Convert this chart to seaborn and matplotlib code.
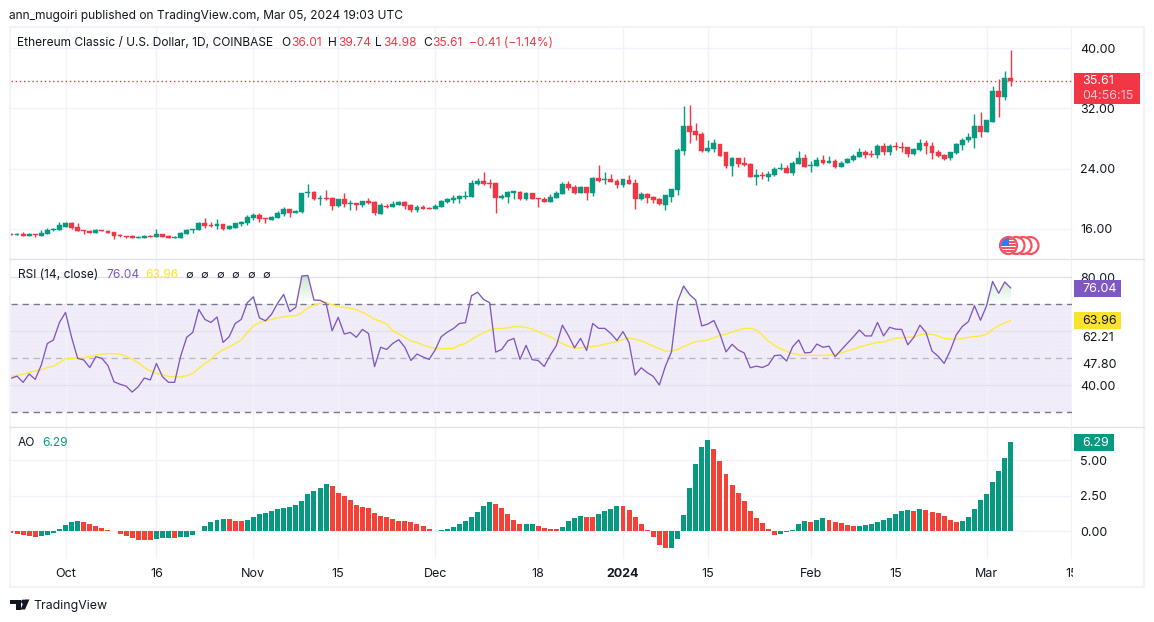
import numpy as np
import pandas as pd
import matplotlib
matplotlib.use('Agg')
import matplotlib.pyplot as plt
import seaborn as sns
from matplotlib.patches import Circle, Polygon, Rectangle
from matplotlib.path import Path
from matplotlib.transforms import Bbox

# Velas diárias ETC/USD
opens = [15.27, 15.13, 15.27, 15.0, 15.27, 15.0, 15.27, 15.8, 15.8, 16.2, 16.73, 16.2, 15.8, 15.67, 15.4, 15.8, 15.67, 15.53, 15.13, 15.0,
         15.0, 14.78, 14.78, 15.0, 14.87, 15.27, 15.0, 14.78, 14.78, 15.27, 15.84, 15.8, 16.73, 16.42, 16.33, 16.6, 15.93, 16.07, 16.6, 16.73,
         17.4, 17.8, 17.4, 17.13, 17.4, 17.93, 18.6, 18.07, 18.2, 20.73, 20.87, 19.93, 20.07, 20.07, 19.0, 19.93, 19.27, 19.4, 19.13, 19.67,
         19.53, 17.93, 19.05, 18.87, 19.13, 19.53, 19.13, 18.47, 18.87, 18.78, 18.6, 18.87, 19.53, 19.8, 19.93, 20.2, 20.2, 21.93, 22.33, 22.07,
         22.07, 20.07, 20.2, 20.73, 20.87, 19.93, 20.73, 20.07, 19.93, 19.53, 20.07, 20.6, 21.93, 21.53, 20.73, 21.53, 20.73, 22.73, 22.47, 22.6,
         22.33, 21.8, 22.47, 22.07, 19.93, 20.6, 20.2, 19.93, 19.13, 20.2, 21.13, 26.33, 29.67, 29.0, 28.6, 26.33, 26.6, 27.27, 26.2, 24.33,
         25.4, 24.73, 24.6, 22.87, 23.13, 22.87, 23.13, 23.93, 24.07, 23.4, 24.6, 25.4, 24.33, 24.33, 25.13, 24.73, 25.0, 24.2, 24.73, 25.13,
         25.53, 26.2, 25.93, 25.8, 27.0, 26.2, 27.0, 26.87, 26.87, 25.93, 26.47, 27.4, 27.0, 26.2, 25.8, 25.4, 26.07, 27.13, 27.8, 28.07,
         29.67, 28.87, 30.2, 34.33, 33.53, 36.01]
highs = [15.4, 15.36, 15.49, 15.36, 15.27, 15.8, 16.07, 16.11, 16.87, 16.87, 16.87, 16.73, 15.8, 15.8, 15.93, 15.8, 15.8, 15.53, 15.27, 15.0,
         15.13, 15.0, 15.13, 15.13, 15.93, 15.27, 15.13, 15.0, 15.53, 15.93, 15.93, 16.87, 17.4, 16.87, 17.27, 16.6, 16.47, 16.73, 17.0, 17.8,
         18.07, 18.07, 17.4, 17.67, 18.33, 18.87, 18.6, 18.47, 20.73, 21.93, 21.0, 20.47, 21.13, 20.2, 19.93, 20.73, 19.8, 19.4, 19.67, 20.07,
         19.67, 19.4, 19.27, 19.67, 19.67, 19.67, 19.27, 19.13, 19.13, 18.87, 19.27, 19.8, 20.07, 20.47, 20.47, 21.0, 22.47, 22.73, 23.53, 22.6,
         22.07, 20.6, 21.0, 21.0, 21.0, 20.87, 20.73, 20.07, 20.2, 20.6, 21.0, 22.2, 22.33, 21.8, 21.67, 21.53, 22.87, 24.47, 23.53, 23.27,
         22.6, 22.6, 23.13, 22.6, 20.87, 20.73, 20.33, 20.07, 20.47, 21.27, 26.73, 32.33, 32.47, 30.07, 28.87, 27.8, 27.93, 27.27, 26.2, 25.53,
         25.4, 25.53, 24.73, 23.93, 23.53, 23.67, 24.2, 24.73, 24.47, 25.0, 26.33, 25.93, 25.0, 25.53, 25.8, 25.67, 25.27, 25.0, 25.4, 25.93,
         26.73, 26.47, 26.47, 27.27, 27.4, 27.27, 27.53, 27.53, 26.87, 26.73, 27.93, 27.8, 27.53, 26.47, 25.93, 26.2, 27.4, 28.07, 28.73, 31.27,
         31.53, 30.47, 35.0, 35.93, 37.0, 39.74]
lows = [15.13, 15.09, 15.0, 15.0, 14.91, 15.0, 15.27, 15.67, 15.8, 16.15, 15.93, 15.67, 15.27, 15.4, 15.4, 15.71, 15.36, 14.6, 14.87, 14.78,
        14.73, 14.73, 14.73, 14.82, 14.87, 14.87, 14.73, 14.73, 14.78, 15.27, 15.4, 15.8, 16.07, 16.15, 15.93, 15.8, 15.93, 16.07, 16.33, 16.47,
        17.13, 16.87, 16.73, 17.13, 17.4, 17.67, 17.53, 18.07, 18.07, 20.2, 19.8, 19.13, 19.8, 18.47, 18.87, 18.87, 18.47, 18.47, 18.87, 19.27,
        17.8, 17.93, 18.73, 18.87, 19.13, 18.6, 18.2, 18.2, 18.6, 18.6, 18.6, 18.87, 19.4, 19.4, 19.4, 19.93, 20.2, 21.8, 21.8, 21.4,
        18.07, 19.93, 19.4, 19.93, 19.8, 19.8, 19.93, 18.87, 19.53, 19.53, 20.07, 20.6, 21.13, 20.6, 20.73, 19.8, 20.33, 22.2, 21.93, 22.2,
        21.4, 21.53, 21.93, 18.6, 19.8, 19.4, 19.4, 19.13, 18.47, 19.53, 20.47, 25.8, 27.4, 27.8, 26.2, 26.2, 26.2, 25.67, 24.07, 23.0,
        24.2, 24.33, 22.87, 21.8, 22.6, 22.33, 23.0, 23.8, 23.4, 23.13, 24.6, 24.2, 23.53, 24.33, 24.6, 24.73, 24.07, 24.2, 24.73, 25.0,
        25.53, 25.4, 25.53, 25.4, 25.8, 25.8, 26.47, 26.2, 25.53, 25.8, 26.33, 25.93, 25.27, 25.53, 25.13, 25.13, 25.93, 26.47, 27.53, 26.73,
        28.2, 28.87, 30.2, 30.87, 33.13, 34.98]
closes = [15.13, 15.27, 15.0, 15.27, 15.18, 15.4, 15.8, 15.93, 16.47, 16.73, 16.07, 15.67, 15.71, 15.44, 15.8, 15.71, 15.44, 15.0, 15.0, 14.91,
          14.78, 14.91, 15.0, 14.91, 15.27, 14.87, 14.78, 14.91, 15.4, 15.8, 15.93, 16.73, 16.33, 16.33, 16.6, 15.93, 16.33, 16.73, 16.87, 17.53,
          17.8, 17.27, 17.31, 17.53, 18.07, 18.6, 18.07, 18.33, 20.73, 20.87, 19.93, 20.07, 19.93, 19.0, 19.93, 19.27, 19.4, 19.13, 19.67, 19.36,
          18.07, 19.13, 18.91, 19.27, 19.53, 19.0, 18.47, 18.87, 18.6, 18.6, 19.0, 19.67, 19.93, 20.07, 20.33, 20.33, 22.07, 22.33, 21.93, 21.93,
          20.07, 20.29, 20.87, 21.0, 19.93, 20.73, 19.93, 19.98, 19.53, 20.2, 20.73, 21.93, 21.4, 20.73, 21.53, 20.73, 22.73, 22.33, 22.6, 22.2,
          21.8, 22.6, 21.93, 19.93, 20.6, 20.07, 19.8, 19.27, 20.47, 21.27, 26.47, 29.67, 28.87, 28.47, 26.33, 26.73, 27.4, 25.67, 24.33, 25.4,
          24.6, 24.51, 22.87, 23.13, 23.0, 23.27, 23.93, 24.07, 23.4, 24.73, 25.4, 24.2, 24.47, 25.13, 24.73, 25.0, 24.2, 24.73, 25.27, 25.67,
          26.2, 25.8, 25.8, 27.0, 26.2, 27.0, 26.87, 26.78, 25.93, 26.6, 27.4, 27.0, 26.07, 25.67, 25.27, 26.2, 27.27, 27.8, 28.2, 29.67,
          28.87, 30.47, 34.33, 33.53, 36.01, 35.61]

rsi_values = [42.6, 43.4, 41.1, 44.2, 42.2, 47.5, 55.5, 56.8, 63.3, 67.0, 57.8, 50.0, 49.4, 46.6, 50.6, 50.0, 47.3, 41.3, 40.4, 39.7,
              37.5, 39.5, 42.7, 42.0, 48.1, 43.2, 41.1, 41.1, 50.8, 57.8, 59.6, 68.1, 64.4, 63.3, 65.3, 55.9, 58.0, 62.9, 64.4, 70.6,
              72.8, 65.0, 63.9, 66.3, 70.4, 73.7, 67.3, 68.9, 80.5, 80.7, 71.6, 71.5, 70.4, 60.2, 65.2, 59.0, 59.6, 57.8, 60.7, 59.2,
              46.9, 54.1, 53.3, 55.5, 56.9, 54.1, 49.2, 51.6, 50.5, 49.6, 53.1, 58.0, 59.7, 61.0, 62.9, 63.2, 73.2, 74.5, 71.8, 70.6,
              52.3, 53.3, 56.5, 57.4, 49.6, 54.8, 49.5, 49.2, 47.0, 51.2, 54.7, 62.3, 58.4, 53.9, 57.4, 52.9, 62.9, 61.1, 61.1, 59.2,
              56.6, 59.9, 55.8, 43.8, 46.5, 44.7, 43.3, 40.1, 47.1, 52.4, 71.0, 76.8, 73.6, 71.6, 62.0, 62.7, 64.0, 59.0, 52.4, 55.2,
              53.1, 52.0, 46.5, 47.1, 46.6, 47.6, 51.0, 51.2, 49.0, 54.3, 56.8, 52.0, 52.2, 55.3, 54.1, 54.5, 50.6, 53.1, 55.5, 57.9,
              60.5, 58.3, 58.3, 63.3, 58.3, 61.5, 60.8, 60.7, 55.0, 57.8, 62.3, 59.6, 52.7, 50.8, 48.1, 52.8, 58.7, 61.8, 63.6, 69.5,
              64.1, 69.5, 78.5, 74.1, 78.3, 76.04]
rsi_ma = [43.3, 43.7, 44.1, 44.8, 45.3, 45.7, 46.6, 47.1, 48.4, 49.9, 50.0, 50.0, 50.2, 50.7, 51.2, 51.6, 51.8, 51.7, 51.5, 50.8,
          49.6, 48.4, 46.6, 45.3, 44.5, 43.9, 43.3, 43.1, 43.1, 43.6, 44.4, 46.3, 48.0, 49.7, 51.8, 53.1, 54.2, 55.5, 56.9, 59.5,
          62.0, 63.2, 63.9, 64.4, 65.0, 65.4, 65.7, 65.8, 66.9, 68.7, 69.7, 70.4, 70.7, 69.9, 69.2, 68.9, 68.5, 68.0, 67.1, 65.8,
          64.5, 63.7, 62.7, 60.2, 59.0, 57.8, 56.5, 55.9, 54.9, 54.2, 53.7, 53.6, 53.6, 53.7, 54.9, 55.5, 57.0, 58.3, 59.5, 60.5,
          61.0, 61.1, 61.3, 61.8, 61.7, 61.5, 60.8, 59.9, 58.9, 58.0, 56.6, 55.5, 54.5, 53.7, 53.9, 54.2, 54.4, 54.7, 55.3, 55.7,
          56.2, 57.0, 57.5, 57.1, 56.5, 55.5, 54.5, 53.6, 52.7, 52.6, 53.3, 54.3, 55.3, 56.2, 56.4, 56.8, 57.6, 58.5, 59.0, 59.7,
          60.5, 61.1, 61.1, 60.5, 58.6, 56.4, 54.8, 53.6, 52.6, 51.8, 51.3, 51.1, 51.1, 51.1, 51.1, 51.2, 51.5, 52.0, 52.7, 53.4,
          54.2, 54.8, 55.4, 55.9, 56.0, 56.8, 57.4, 57.6, 57.8, 57.9, 58.7, 59.1, 58.9, 58.3, 57.4, 57.1, 57.0, 57.3, 57.8, 58.1,
          58.3, 58.9, 60.7, 62.1, 63.1, 63.96]

ao_values = [-0.12, -0.19, -0.26, -0.33, -0.40, -0.33, -0.26, -0.12, 0.16, 0.45, 0.66, 0.73, 0.66, 0.52, 0.38, 0.23, 0.09, 0.02, -0.19, -0.33,
             -0.47, -0.61, -0.61, -0.61, -0.54, -0.47, -0.47, -0.47, -0.40, -0.40, -0.26, 0.03, 0.38, 0.66, 0.80, 0.87, 0.87, 0.73, 0.73, 0.80,
             1.01, 1.22, 1.29, 1.43, 1.57, 1.64, 1.71, 1.85, 2.14, 2.63, 2.84, 3.05, 3.33, 3.19, 2.70, 2.49, 2.21, 1.85, 1.71, 1.64,
             1.29, 1.08, 1.01, 0.87, 0.73, 0.73, 0.66, 0.52, 0.38, 0.16, 0.02, 0.09, 0.16, 0.31, 0.52, 0.73, 1.01, 1.36, 1.78, 2.07,
             1.92, 1.64, 1.22, 0.80, 0.52, 0.52, 0.52, 0.38, 0.23, 0.16, 0.16, 0.31, 0.73, 0.94, 1.08, 1.01, 1.01, 1.22, 1.43, 1.57,
             1.78, 1.78, 1.50, 1.01, 0.52, 0.09, -0.40, -0.96, -1.17, -1.17, -0.54, 1.15, 3.05, 4.74, 5.94, 6.43, 5.80, 4.95, 4.04, 3.26,
             2.70, 2.14, 1.43, 0.94, 0.59, 0.16, -0.26, -0.19, -0.05, 0.09, 0.52, 0.73, 0.66, 0.80, 0.94, 0.80, 0.66, 0.59, 0.45, 0.38,
             0.38, 0.45, 0.52, 0.66, 0.80, 0.94, 1.22, 1.43, 1.50, 1.43, 1.57, 1.50, 1.36, 1.29, 1.08, 0.80, 0.66, 0.73, 1.01, 1.57,
             2.21, 2.63, 3.47, 4.25, 5.16, 6.29]
# Trechos alternados de barras vermelhas e verdes do AO, começando em vermelho
ao_runs = [5, 7, 12, 3, 1, 8, 3, 14, 18, 9, 5, 2, 4, 4, 2, 4, 8, 7, 11, 5, 1, 2, 5, 9, 1, 1, 6, 9]

time_ticks = [0, 15, 31, 45, 61, 78, 92, 106, 123, 137, 152, 166]
time_labels = ['Oct', '16', 'Nov', '15', 'Dec', '18', '2024', '15', 'Feb', '15', 'Mar', '15']

GREEN = '#089981'
RED = '#f23645'
AO_RED = '#f44336'
PURPLE = '#7e57c2'
YELLOW = '#ffeb3b'
GRID = '#f0f3fa'
TEXT = '#131722'

sns.set_style('white')
plt.rcParams['font.family'] = ['Inter', 'DejaVu Sans']
plt.rcParams['hatch.linewidth'] = 0.3

W, H = 1154, 622
fig = plt.figure(figsize=(W / 100, H / 100), dpi=100, facecolor='white')


def painel(top, bottom, left=10.5, right=1072):
    ax = fig.add_axes([left / W, 1 - bottom / H, (right - left) / W, (bottom - top) / H])
    for lado in ax.spines.values():
        lado.set_visible(False)
    return ax


dias = np.arange(-9, 157)
df = pd.DataFrame({'dia': dias, 'open': opens, 'high': highs, 'low': lows, 'close': closes,
                   'rsi': rsi_values, 'rsi_ma': rsi_ma, 'ao': ao_values})
df['ao_cor'] = np.repeat([('R', 'G')[i % 2] for i in range(len(ao_runs))], ao_runs)
df['alta'] = df['close'] >= df['open']
xlim = (-9.08, 166.1)

# Painel de preço
ax_preco = painel(28, 258)
cores = np.where(df['alta'], GREEN, RED)
ax_preco.vlines(df['dia'], df['low'], df['high'], colors=cores, linewidth=1.0, zorder=3)
ax_preco.bar(df['dia'], (df['close'] - df['open']).abs(), bottom=df[['open', 'close']].min(axis=1),
             width=0.8, color=cores, edgecolor=cores, linewidth=0.3, zorder=4)
ax_preco.axhline(closes[-1], color=RED, linewidth=1, linestyle=(0, (1, 2)), zorder=2)
ax_preco.set_ylim(12.07, 42.73)
ax_preco.set_yticks([16, 24, 32, 40], ['16.00', '24.00', '32.00', '40.00'])

# Painel do RSI
ax_rsi = painel(259, 426)
ax_rsi.axhspan(30, 70, facecolor=PURPLE, alpha=0.1, linewidth=0, zorder=0.1)
ax_rsi.axhspan(30, 70, facecolor='none', edgecolor=(0.49, 0.34, 0.76, 0.05), hatch='....', linewidth=0, zorder=0.2)
zona = ax_rsi.fill_between(df['dia'], df['rsi'], 70, where=df['rsi'] > 70, interpolate=True,
                           facecolor='none', linewidth=0)
gradiente = np.zeros((64, 2, 4))
gradiente[..., :3] = matplotlib.colors.to_rgb('#4caf50')
gradiente[..., 3] = np.linspace(0.32, 0, 64)[:, None]
imagem = ax_rsi.imshow(gradiente, extent=(xlim[0], xlim[1], 70, 81), aspect='auto', origin='upper', zorder=1)
imagem.set_clip_path(Path.make_compound_path(*zona.get_paths()), ax_rsi.transData)
for nivel, tom in [(70, '#787b86'), (30, '#787b86'), (50, '#b8bac2')]:
    ax_rsi.axhline(nivel, color=tom, linewidth=1, linestyle=(0, (4.5, 3.5)), zorder=1.5)
sns.lineplot(data=df, x='dia', y='rsi_ma', color=YELLOW, linewidth=1.0, ax=ax_rsi, zorder=2)
sns.lineplot(data=df, x='dia', y='rsi', color=PURPLE, linewidth=0.95, ax=ax_rsi, zorder=3)
ax_rsi.set_ylim(24.93, 86.8)
ax_rsi.set_yticks([40, 60, 80], ['40.00', '', '80.00'])

# Painel do Awesome Oscillator
ax_ao = painel(427, 559)
sns.barplot(data=df, x='dia', y='ao', hue='ao_cor', palette={'G': GREEN, 'R': AO_RED}, native_scale=True,
            width=0.82, dodge=False, saturation=1, legend=False, linewidth=0, ax=ax_ao, zorder=3)
ax_ao.set_ylim(-1.95, 7.35)
ax_ao.set_yticks([0, 2.5, 5], ['0.00', '2.50', '5.00'])

for ax in (ax_preco, ax_rsi, ax_ao):
    ax.set_xlim(*xlim)
    ax.set_xlabel('')
    ax.set_ylabel('')
    ax.set_xticks(time_ticks)
    ax.set_axisbelow(True)
    ax.grid(True, color=GRID, linewidth=1)
    ax.patch.set_alpha(0)
    ax.yaxis.tick_right()
    ax.tick_params(axis='y', length=0, pad=5.8, labelsize=9, labelcolor=TEXT)
    ax.tick_params(axis='x', length=0, labelbottom=False)
ax_rsi.grid(True, color='#e4e1ee', linewidth=1, axis='y')
ax_rsi.grid(True, color=GRID, linewidth=1, axis='x')

ax_ao.tick_params(axis='x', labelbottom=True, pad=6.5, labelsize=9, labelcolor=TEXT)
ax_ao.set_xticks(time_ticks, time_labels)
corte = Bbox([[0, 0], [1073, H]])
for rotulo in ax_ao.get_xticklabels():
    rotulo.set_clip_box(corte)
    rotulo.set_clip_on(True)
    if rotulo.get_text() == '2024':
        rotulo.set_fontweight('bold')

# Camada da página em pixels: moldura, etiquetas, legendas e logotipo
pg = fig.add_axes([0, 0, 1, 1], zorder=10)
pg.set_xlim(0, W)
pg.set_ylim(H, 0)
pg.axis('off')
pg.patch.set_alpha(0)
pg.add_patch(Rectangle((10, 27), 1134, 559.5, fill=False, edgecolor=GRID, linewidth=1.6))
pg.plot([10, 1144], [258.5, 258.5], color='#e0e3eb', linewidth=1)
pg.plot([10, 1144], [426.5, 426.5], color='#e0e3eb', linewidth=1)


def texto(x, y, s, cor=TEXT, tam=8.6, **kw):
    pg.text(x, y, s, color=cor, fontsize=tam, va='center', ha=kw.pop('ha', 'left'), **kw)


texto(9, 15.5, 'ann_mugoiri published on TradingView.com, Mar 05, 2024 19:03 UTC')
texto(17, 43, 'Ethereum Classic / U.S. Dollar, 1D, COINBASE')
for x, letra in [(281, 'O'), (328, 'H'), (375, 'L'), (423, 'C')]:
    texto(x, 43, letra)
for x, valor in [(291, '36.01'), (338, '39.74'), (383, '34.98'), (432, '35.61'), (469, '−0.41 (−1.14%)')]:
    texto(x, 43, valor, cor=RED)

texto(18, 275, 'RSI (14, close)')
texto(106, 275, '76.04', cor=PURPLE)
texto(145, 275, '63.96', cor='#fbe32d')
for x in [189, 204, 220, 235, 251, 266]:
    texto(x, 275, '∅', tam=8, ha='center')
texto(18, 443, 'AO')
texto(42, 443, '6.29', cor=GREEN)

pg.add_patch(Rectangle((1074, 73), 66, 31, facecolor=RED, edgecolor='none'))
texto(1082, 81.5, '35.61', cor='white', tam=9)
texto(1082, 96, '04:56:15', cor='#fbc5ca', tam=9)
pg.add_patch(Rectangle((1074, 280), 46.5, 17, facecolor=PURPLE, edgecolor='none'))
texto(1082, 288.5, '76.04', cor='white', tam=9)
pg.add_patch(Rectangle((1074, 312), 46.5, 17, facecolor='#fbe32d', edgecolor='none'))
texto(1082, 320.5, '63.96', tam=9)
texto(1082, 338, '62.21', tam=9)
texto(1082, 364.5, '47.80', tam=9)
pg.add_patch(Rectangle((1074, 434), 40, 17, facecolor=GREEN, edgecolor='none'))
texto(1082, 442.5, '6.29', cor='white', tam=9)

# Bandeiras de eventos
for x in [1030, 1023, 1016, 1008.5]:
    pg.add_patch(Circle((x, 245.5), 8.5, facecolor='white', edgecolor='#f7525f', linewidth=1.6, zorder=5))
fundo = Circle((1008.5, 245.5), 7.5, transform=pg.transData)
for i, y in enumerate(np.arange(238, 253, 3)):
    faixa = Rectangle((1000, y), 18, 1.6, facecolor='#f7525f', edgecolor='none', zorder=6)
    pg.add_patch(faixa)
    faixa.set_clip_path(fundo)
azul = Rectangle((1000, 237), 9, 9, facecolor='#3179f5', edgecolor='none', zorder=7)
pg.add_patch(azul)
azul.set_clip_path(fundo)

# Logotipo
pg.add_patch(Polygon([(10, 599.5), (21, 599.5), (21, 609.5), (16, 609.5), (16, 604), (10, 604)], facecolor=TEXT, edgecolor='none'))
pg.add_patch(Circle((23.2, 601.7), 2.1, facecolor=TEXT, edgecolor='none'))
pg.add_patch(Polygon([(24.6, 599.5), (29.4, 599.5), (25, 609.5), (20.6, 609.5)], facecolor=TEXT, edgecolor='none'))
texto(33.5, 605.5, 'TradingView', tam=8.9)

fig.savefig('out.png', dpi=100)
